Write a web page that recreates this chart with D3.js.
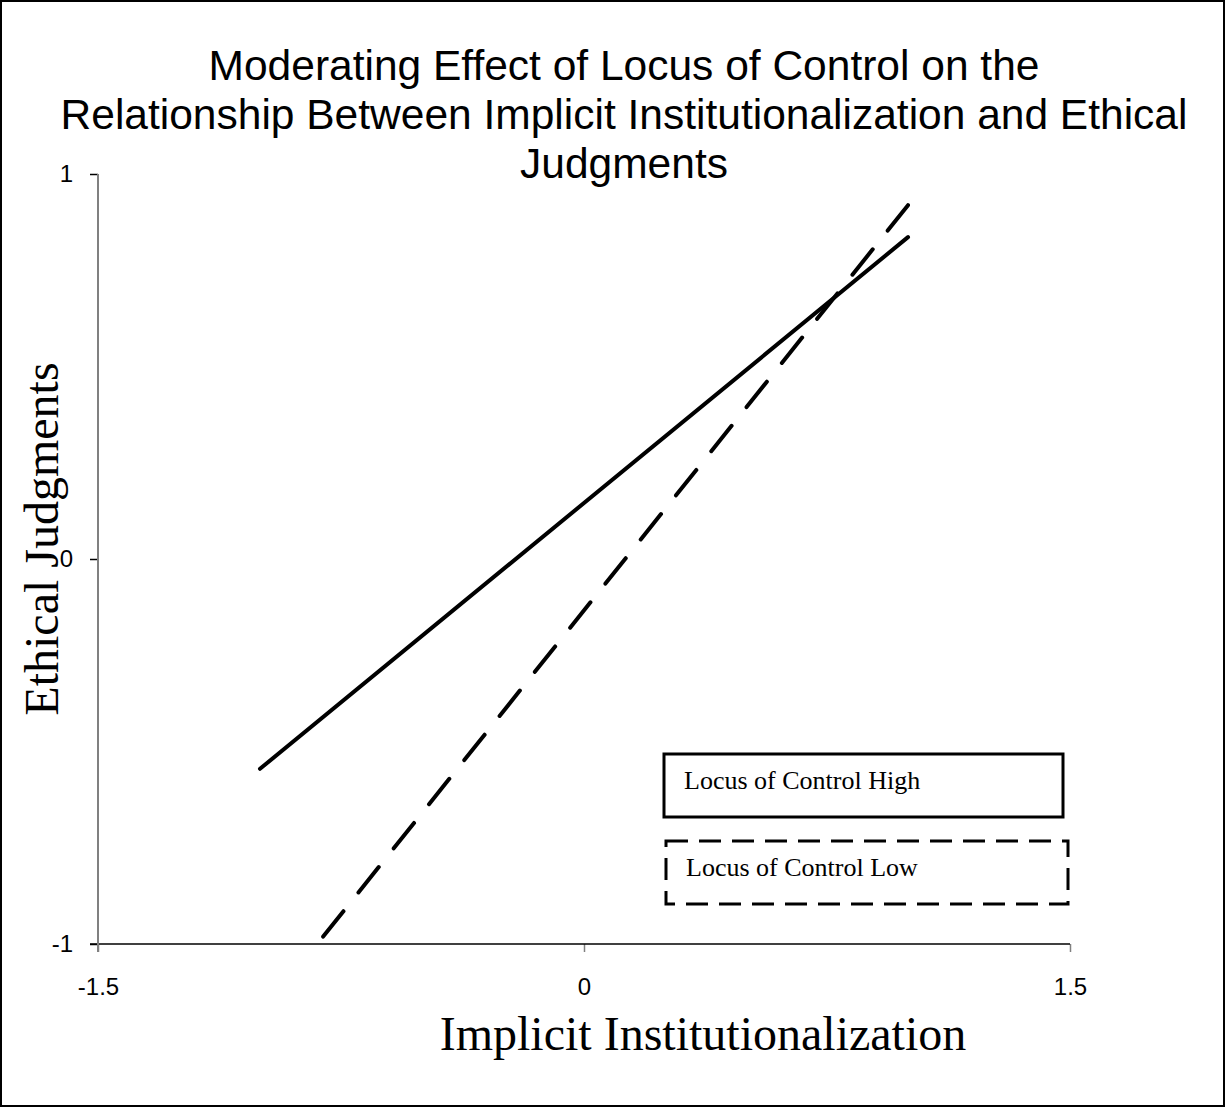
<!DOCTYPE html>
<html>
<head>
<meta charset="utf-8">
<script src="https://cdn.jsdelivr.net/npm/d3@7"></script>
<style>
  html, body { margin: 0; padding: 0; background: #fff; }
  svg { display: block; }
</style>
</head>
<body>
<script>
// chart data
const seriesNames = ["Locus of Control High", "Locus of Control Low"];
const xValues = [-1, 1];
const highValues = [-0.545, 0.836];
const lowValues = [-1.186, 0.919];
const xTicks = [-1.5, 0, 1.5];
const yTicks = [-1, 0, 1];
const titleLines = [
    "Moderating Effect of Locus of Control on the",
    "Relationship Between Implicit Institutionalization and Ethical",
    "Judgments"
];

const width = 1225, height = 1107;
const plot = { left: 98, right: 1070, top: 174, bottom: 944 };

const svg = d3.select("body").append("svg").attr("width", width).attr("height", height);

// outer frame
svg.append("rect").attr("x", 1).attr("y", 1).attr("width", width - 2).attr("height", height - 2)
    .attr("fill", "#fff").attr("stroke", "#000").attr("stroke-width", 2);

const x = d3.scaleLinear().domain([-1.5, 1.5]).range([plot.left, plot.right]);
const y = d3.scaleLinear().domain([-1, 1]).range([plot.bottom, plot.top]);

// title
svg.append("text")
    .attr("x", 624).attr("y", 80)
    .attr("text-anchor", "middle")
    .style("font-family", "Arial, 'Liberation Sans', sans-serif")
    .style("font-size", "42.5px")
    .selectAll("tspan").data(titleLines).enter().append("tspan")
    .attr("x", 624).attr("dy", (d, i) => i === 0 ? 0 : 49)
    .text(d => d);

// x axis (black line, gray ticks)
const xAxis = svg.append("g").attr("transform", `translate(0,${plot.bottom})`)
    .call(d3.axisBottom(x).tickValues(xTicks).tickSize(8).tickSizeOuter(0).tickFormat(d => String(d)));
xAxis.select(".domain").remove();
xAxis.selectAll(".tick line").attr("stroke", "#808080").attr("stroke-width", 1.5);
xAxis.selectAll(".tick text")
    .attr("y", 34)
    .style("font-family", "Arial, 'Liberation Sans', sans-serif")
    .style("font-size", "24px").attr("fill", "#000");
svg.append("line").attr("x1", plot.left - 8).attr("x2", plot.right)
    .attr("y1", plot.bottom).attr("y2", plot.bottom)
    .attr("stroke", "#000").attr("stroke-width", 1.5);

// y axis (gray line, black ticks)
const yAxis = svg.append("g").attr("transform", `translate(${plot.left},0)`)
    .call(d3.axisLeft(y).tickValues(yTicks).tickSize(8).tickSizeOuter(0).tickFormat(d => String(d)));
yAxis.select(".domain").remove();
yAxis.selectAll(".tick line").attr("stroke", "#000").attr("stroke-width", 1.5);
yAxis.selectAll(".tick text")
    .attr("x", -25)
    .style("font-family", "Arial, 'Liberation Sans', sans-serif")
    .style("font-size", "24px").attr("fill", "#000");
svg.append("line").attr("x1", plot.left).attr("x2", plot.left)
    .attr("y1", plot.top).attr("y2", plot.bottom + 8)
    .attr("stroke", "#808080").attr("stroke-width", 2);

// axis titles
svg.append("text")
    .attr("x", 703).attr("y", 1050)
    .attr("text-anchor", "middle")
    .style("font-family", "'Times New Roman', 'Liberation Serif', serif")
    .style("font-size", "48px")
    .text("Implicit Institutionalization");

svg.append("text")
    .attr("transform", "translate(58,539) rotate(-90)")
    .attr("text-anchor", "middle")
    .style("font-family", "'Times New Roman', 'Liberation Serif', serif")
    .style("font-size", "48px")
    .text("Ethical Judgments");

// clip to plot area
svg.append("clipPath").attr("id", "plotClip").append("rect")
    .attr("x", plot.left).attr("y", plot.top)
    .attr("width", plot.right - plot.left).attr("height", plot.bottom - plot.top);

const line = d3.line().x(d => x(d[0])).y(d => y(d[1]));
const lines = svg.append("g").attr("clip-path", "url(#plotClip)");

const highPts = xValues.map((v, i) => [v, highValues[i]]);
const lowPts = xValues.map((v, i) => [v, lowValues[i]]).reverse();

lines.append("path").datum(highPts)
    .attr("d", line).attr("fill", "none")
    .attr("stroke", "#000").attr("stroke-width", 4).attr("stroke-linecap", "round");

lines.append("path").datum(lowPts)
    .attr("d", line).attr("fill", "none")
    .attr("stroke", "#000").attr("stroke-width", 4).attr("stroke-linecap", "round")
    .attr("stroke-dasharray", "32.5,24");

// legend boxes
const legend = [
    { name: seriesNames[0], x: 664, y: 754, w: 399, h: 63, dash: null, tx: 684, ty: 789 },
    { name: seriesNames[1], x: 666, y: 841, w: 402, h: 63, dash: "22,11", tx: 686, ty: 876 }
];
const lg = svg.append("g").selectAll("g").data(legend).enter().append("g");
lg.append("rect")
    .attr("x", d => d.x).attr("y", d => d.y).attr("width", d => d.w).attr("height", d => d.h)
    .attr("fill", "none").attr("stroke", "#000").attr("stroke-width", 3)
    .attr("stroke-dasharray", d => d.dash);
lg.append("text")
    .attr("x", d => d.tx).attr("y", d => d.ty)
    .style("font-family", "'Times New Roman', 'Liberation Serif', serif")
    .style("font-size", "26px")
    .text(d => d.name);
</script>
</body>
</html>
